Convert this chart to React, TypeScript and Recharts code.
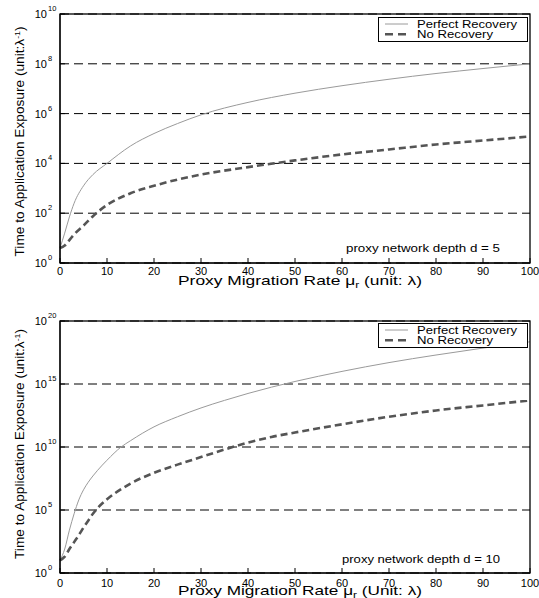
import React from 'react';
import { LineChart, Line, XAxis, YAxis, CartesianGrid } from 'recharts';

const FONT = '"Liberation Sans", Arial, Helvetica, sans-serif';

// migration rate samples (unit: lambda)
const muTop = [0, 1, 2, 3, 5, 7, 10, 15, 20, 25, 30, 40, 50, 60, 70, 80, 90, 100];
// log10 of time to exposure, d = 5
const perfectTopExp = [0.6, 1.2, 1.85, 2.4, 3.1, 3.55, 4.0, 4.7, 5.2, 5.6, 5.95, 6.45, 6.82, 7.12, 7.38, 7.61, 7.81, 8.0];
const noRecTopExp = [0.6, 0.7, 0.92, 1.15, 1.5, 1.88, 2.33, 2.8, 3.1, 3.35, 3.55, 3.85, 4.12, 4.36, 4.56, 4.76, 4.92, 5.08];

const muBottom = [0, 1, 2, 3, 4, 5, 6, 7, 8, 10, 13, 15, 20, 25, 30, 35, 40, 45, 50, 60, 70, 80, 90, 100];
// d = 10
const perfectBottomExp = [1.0, 1.9, 3.4, 4.7, 5.8, 6.6, 7.2, 7.7, 8.15, 8.95, 10.0, 10.5, 11.6, 12.4, 13.1, 13.7, 14.25, 14.75, 15.2, 16.0, 16.7, 17.3, 17.85, 18.35];
const noRecBottomExp = [1.0, 1.3, 1.9, 2.45, 3.0, 3.6, 4.15, 4.7, 5.15, 5.85, 6.65, 7.1, 7.95, 8.6, 9.2, 9.8, 10.35, 10.8, 11.15, 11.8, 12.4, 12.9, 13.3, 13.7];

const xTicks = [0, 10, 20, 30, 40, 50, 60, 70, 80, 90, 100];
const yTicksTop = [1, 1e2, 1e4, 1e6, 1e8, 1e10];
const yTicksBottom = [1, 1e5, 1e10, 1e15, 1e20];

const buildRows = (mu: number[], perfect: number[], noRec: number[]) =>
  mu.map((m, i) => ({ mu: m, perfect: Math.pow(10, perfect[i]), noRec: Math.pow(10, noRec[i]) }));

const topRows = buildRows(muTop, perfectTopExp, noRecTopExp);
const bottomRows = buildRows(muBottom, perfectBottomExp, noRecBottomExp);

const CHART_W = 539;
const Y_AXIS_W = 60;
const RIGHT_PAD = 9;

const PowTick = (props: any) => {
  const { x, y, payload } = props;
  const exp = Math.round(Math.log10(payload.value));
  return (
    <g>
      <text x={x} y={y + 4} textAnchor="end" fontSize={11} fontFamily={FONT} fill="#000">10</text>
      <text x={x + 1} y={y - 3} textAnchor="start" fontSize={7.5} fontFamily={FONT} fill="#000">{exp}</text>
    </g>
  );
};

const XTitle = (props: any) => {
  const { viewBox, unitWord } = props;
  const { x, y, width } = viewBox;
  return (
    <text x={x + width / 2 + 5} y={y + 21.5} textAnchor="middle" fontSize={13} fontFamily={FONT} fill="#000"
      textLength={244} lengthAdjust="spacingAndGlyphs">
      Proxy Migration Rate μ<tspan fontSize={9} dy={3}>r</tspan><tspan dy={-3}> ({unitWord}: λ)</tspan>
    </text>
  );
};

const YTitle = (props: any) => {
  const { viewBox, shift } = props;
  const { y, height } = viewBox;
  const cx = 24;
  const cy = y + height / 2 + shift;
  return (
    <text x={cx} y={cy} transform={`rotate(-90, ${cx}, ${cy})`} textAnchor="middle" fontSize={12.5}
      fontFamily={FONT} fill="#000" textLength={230} lengthAdjust="spacingAndGlyphs">
      Time to Application Exposure (unit:λ<tspan dy={-4} fontSize={8}>-1</tspan><tspan dy={4}>)</tspan>
    </text>
  );
};

const LegendBox = ({ top }: { top: number }) => (
  <g>
    <rect x={378.5} y={top + 0.5} width={149} height={24} fill="#fff" stroke="#000" />
    <line x1={385} x2={408} y1={top + 7} y2={top + 7} stroke="#9a9a9a" strokeWidth={1} />
    <text x={417} y={top + 10.7} fontSize={11} fontFamily={FONT} fill="#000" textLength={100} lengthAdjust="spacingAndGlyphs">Perfect Recovery</text>
    <line x1={385} x2={408} y1={top + 17.3} y2={top + 17.3} stroke="#555" strokeWidth={2.6} strokeDasharray="8 5" />
    <text x={417} y={top + 20.7} fontSize={11} fontFamily={FONT} fill="#000" textLength={76} lengthAdjust="spacingAndGlyphs">No Recovery</text>
  </g>
);

type PanelProps = {
  rows: any[];
  height: number;
  marginTop: number;
  xAxisHeight: number;
  yTicks: number[];
  yMax: number;
  tickMargin: number;
  unitWord: string;
  yShift: number;
  depthText: string;
  depthBaseline: number;
  legendTop: number;
  depthWidth: number;
};

const Panel = (p: PanelProps) => {
  const plotBottom = p.height - p.xAxisHeight;
  const plotRight = CHART_W - RIGHT_PAD;
  return (
    <div style={{ position: 'relative', width: CHART_W, height: p.height }}>
      <LineChart width={CHART_W} height={p.height} data={p.rows} margin={{ top: p.marginTop, right: RIGHT_PAD, bottom: 0, left: 0 }}>
        <CartesianGrid vertical={false} stroke="#000" strokeDasharray="9 5" />
        <XAxis dataKey="mu" type="number" domain={[0, 100]} ticks={xTicks} interval={0} height={p.xAxisHeight}
          stroke="#000" tickSize={-5} tickMargin={p.tickMargin}
          tick={{ fill: '#000', fontSize: 11, fontFamily: FONT }}
          label={<XTitle unitWord={p.unitWord} />} />
        <XAxis xAxisId="top" orientation="top" dataKey="mu" type="number" domain={[0, 100]} ticks={xTicks}
          height={0} stroke="#000" tickSize={-5} tick={false} />
        <YAxis scale="log" type="number" domain={[1, p.yMax]} ticks={p.yTicks} allowDataOverflow interval={0} width={Y_AXIS_W}
          stroke="#000" tickSize={-5} tickMargin={18}
          tick={<PowTick />} label={<YTitle shift={p.yShift} />} />
        <YAxis yAxisId="right" orientation="right" scale="log" type="number" domain={[1, p.yMax]} ticks={p.yTicks}
          allowDataOverflow interval={0} width={0} stroke="#000" tickSize={-5} tick={false} />
        <Line type="monotone" dataKey="perfect" stroke="#9a9a9a" strokeWidth={1} dot={false} isAnimationActive={false} />
        <Line type="monotone" dataKey="noRec" stroke="#555" strokeWidth={2.6} strokeDasharray="7 4" dot={false} isAnimationActive={false} />
      </LineChart>
      <svg width={CHART_W} height={p.height} style={{ position: 'absolute', left: 0, top: 0, pointerEvents: 'none' }}>
        {/* plot frame */}
        <rect x={Y_AXIS_W} y={p.marginTop} width={plotRight - Y_AXIS_W} height={plotBottom - p.marginTop}
          fill="none" stroke="#000" strokeWidth={1.3} />
        <LegendBox top={p.legendTop} />
        <text x={500} y={p.depthBaseline} textAnchor="end" fontSize={11.5} fontFamily={FONT} fill="#000"
          textLength={p.depthWidth} lengthAdjust="spacingAndGlyphs">{p.depthText}</text>
      </svg>
    </div>
  );
};

export default function App() {
  return (
    <div style={{ position: 'absolute', left: 0, top: 0, width: CHART_W, height: 598, background: '#fff' }}>
      <Panel rows={topRows} height={300} marginTop={14} xAxisHeight={37} yTicks={yTicksTop} yMax={1e10}
        tickMargin={9} unitWord="unit" yShift={3} depthText="proxy network depth d = 5" depthBaseline={252}
        legendTop={17} depthWidth={154} />
      <Panel rows={bottomRows} height={298} marginTop={21} xAxisHeight={25} yTicks={yTicksBottom} yMax={1e20}
        tickMargin={11} unitWord="Unit" yShift={-3} depthText="proxy network depth d = 10" depthBaseline={263}
        legendTop={23} depthWidth={158} />
    </div>
  );
}
